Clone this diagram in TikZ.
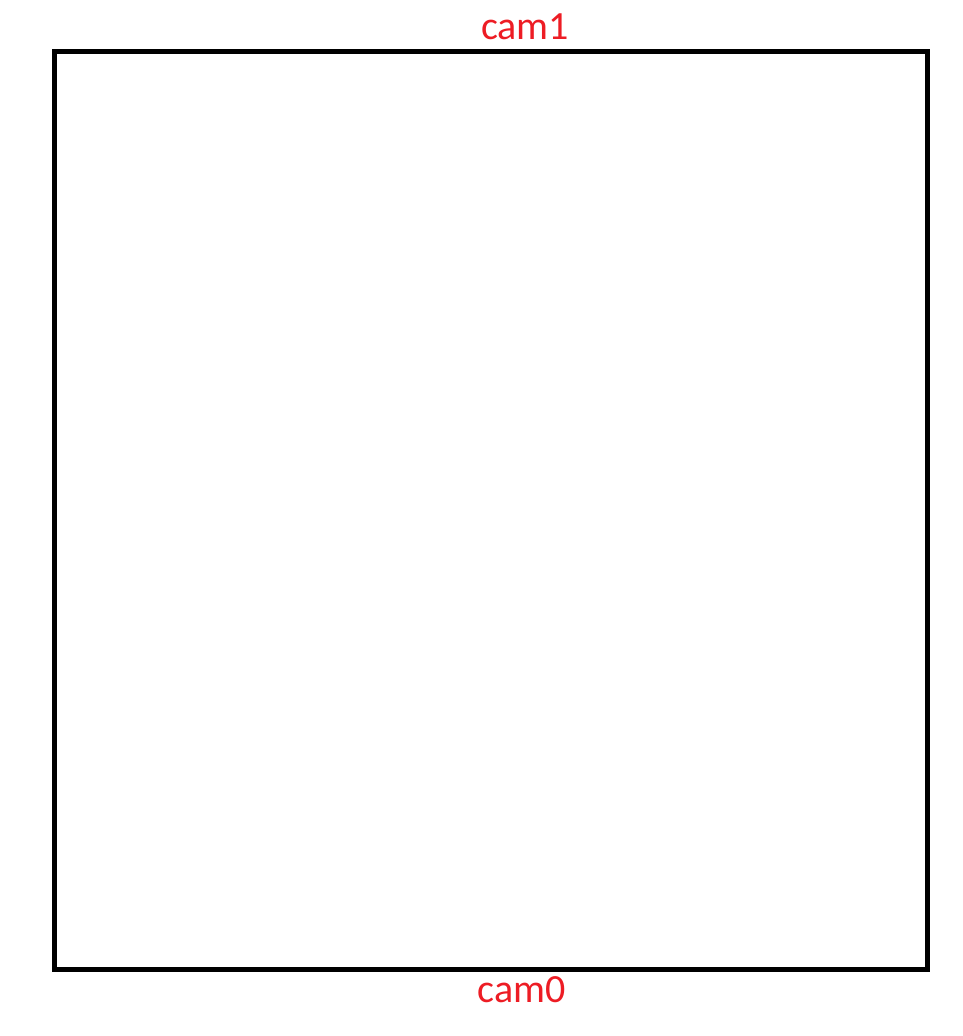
\documentclass[tikz,border=0pt]{standalone}
\usepackage{fontspec}
\setmainfont{Carlito}
\definecolor{camred}{RGB}{237,28,36}
\begin{document}
\begin{tikzpicture}[x=1pt,y=-1pt,
  frame/.style={draw=black,line width=5pt},
  camlabel/.style={text=camred,font=\fontsize{40}{48}\selectfont,inner sep=0pt,anchor=base}]
\useasboundingbox (0,0) rectangle (962,1036);
\node[frame,rectangle,minimum width=873.5pt,minimum height=917.5pt,inner sep=0pt] (box) at (490.75,510.25) {};
\node[camlabel] (cam1) at (525,39) {cam1};
\node[camlabel] (cam0) at (521.5,1002) {cam0};
\end{tikzpicture}
\end{document}
